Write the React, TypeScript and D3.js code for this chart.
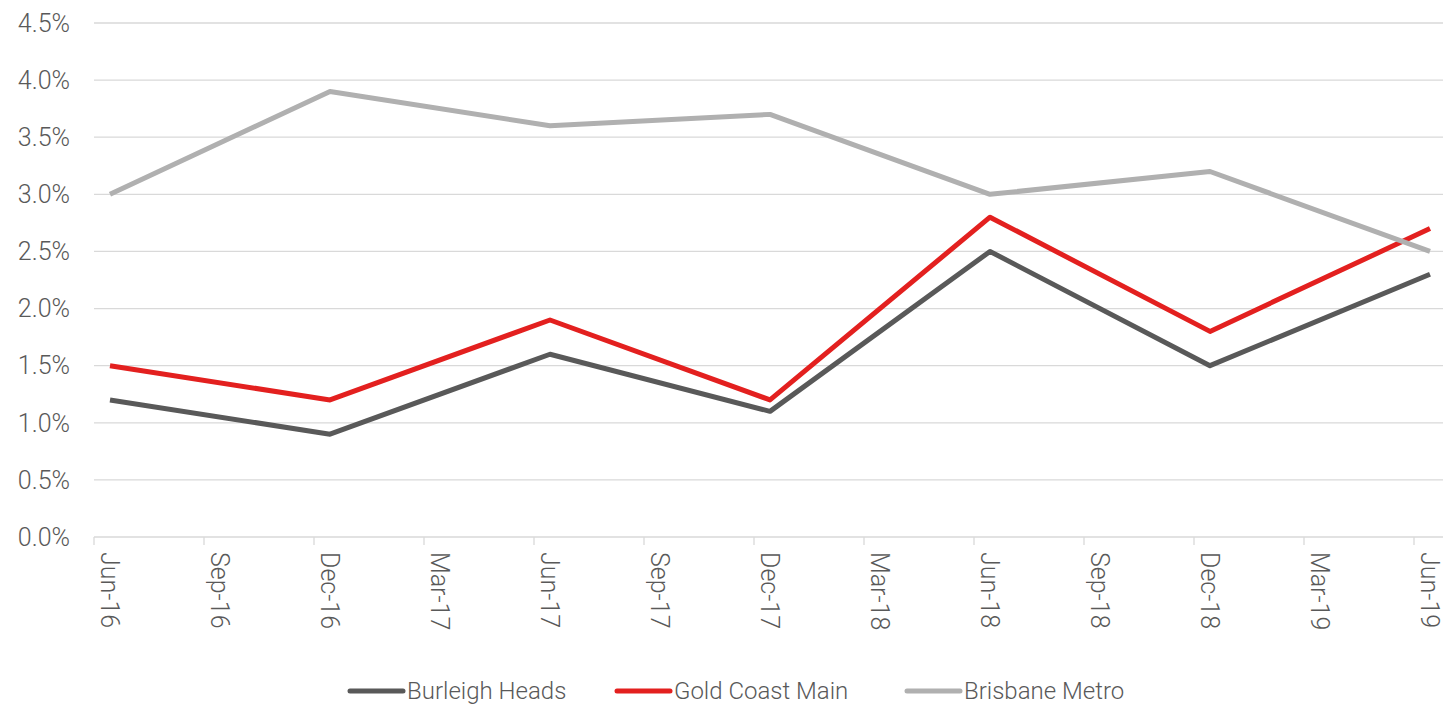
import React, { useEffect, useRef } from 'react';
import * as d3 from 'd3';

const quarters = ['Jun-16', 'Sep-16', 'Dec-16', 'Mar-17', 'Jun-17', 'Sep-17', 'Dec-17', 'Mar-18', 'Jun-18', 'Sep-18', 'Dec-18', 'Mar-19', 'Jun-19'];
const dataDates = ['Jun-16', 'Dec-16', 'Jun-17', 'Dec-17', 'Jun-18', 'Dec-18', 'Jun-19'];
const burleighHeads = [1.2, 0.9, 1.6, 1.1, 2.5, 1.5, 2.3];
const goldCoastMain = [1.5, 1.2, 1.9, 1.2, 2.8, 1.8, 2.7];
const brisbaneMetro = [3.0, 3.9, 3.6, 3.7, 3.0, 3.2, 2.5];
const yTicks = [0, 0.5, 1, 1.5, 2, 2.5, 3, 3.5, 4, 4.5];

const series = [
  { name: 'Burleigh Heads', values: burleighHeads, color: '#595959' },
  { name: 'Gold Coast Main', values: goldCoastMain, color: '#e3201f' },
  { name: 'Brisbane Metro', values: brisbaneMetro, color: '#b0b0b0' },
];

function LineChart() {
  const svgRef = useRef<SVGSVGElement>(null);

  useEffect(() => {
    const svg = d3.select(svgRef.current);
    svg.selectAll('*').remove();

    const width = 1443;
    const height = 708;
    const font = 'Roboto, "Liberation Sans", sans-serif';
    const textColor = '#595959';
    const fontSize = 25;

    const x = d3.scalePoint().domain(quarters).range([110, 1430]);
    const y = d3.scaleLinear().domain([0, 4.5]).range([537, 23]);
    const tickShift = -16;

    // gridlines
    svg.append('g')
      .selectAll('line')
      .data(yTicks)
      .join('line')
      .attr('x1', 94)
      .attr('x2', width)
      .attr('y1', d => y(d))
      .attr('y2', d => y(d))
      .attr('stroke', '#d9d9d9')
      .attr('stroke-width', 1.3);

    // y labels
    svg.append('g')
      .selectAll('text')
      .data(yTicks)
      .join('text')
      .attr('x', 70)
      .attr('y', d => y(d))
      .attr('dy', '0.35em')
      .attr('text-anchor', 'end')
      .attr('font-family', font)
      .attr('font-weight', 300)
      .attr('font-size', fontSize)
      .attr('fill', textColor)
      .text(d => d.toFixed(1) + '%');

    // x ticks
    svg.append('g')
      .selectAll('line')
      .data(quarters)
      .join('line')
      .attr('x1', d => (x(d) as number) + tickShift)
      .attr('x2', d => (x(d) as number) + tickShift)
      .attr('y1', y(0))
      .attr('y2', y(0) + 8)
      .attr('stroke', '#d9d9d9')
      .attr('stroke-width', 1.3);

    // x labels, rotated
    svg.append('g')
      .selectAll('text')
      .data(quarters)
      .join('text')
      .attr('transform', d => `translate(${x(d)},552) rotate(90)`)
      .attr('dy', '0.35em')
      .attr('text-anchor', 'start')
      .attr('font-family', font)
      .attr('font-weight', 300)
      .attr('font-size', fontSize)
      .attr('fill', textColor)
      .text(d => d);

    const line = d3.line<number>()
      .x((_, i) => x(dataDates[i]) as number)
      .y(d => y(d));

    series.forEach(s => {
      svg.append('path')
        .datum(s.values)
        .attr('fill', 'none')
        .attr('stroke', s.color)
        .attr('stroke-width', 5)
        .attr('stroke-linejoin', 'round')
        .attr('d', line);
    });

    // legend
    const legendX = [348, 615, 905];
    const legend = svg.append('g');
    series.forEach((s, i) => {
      const g = legend.append('g').attr('transform', `translate(${legendX[i]},691)`);
      g.append('line')
        .attr('x1', 2).attr('x2', 55)
        .attr('stroke', s.color)
        .attr('stroke-width', 5)
        .attr('stroke-linecap', 'round');
      g.append('text')
        .attr('x', 59)
        .attr('dy', '0.35em')
        .attr('font-family', font)
        .attr('font-weight', 300)
        .attr('font-size', 24)
        .attr('fill', textColor)
        .text(s.name);
    });

    svg.attr('width', width).attr('height', height);
  }, []);

  return <svg ref={svgRef} style={{ position: 'absolute', left: 0, top: 0 }}></svg>;
}

export default function App() {
  return <LineChart />;
}
